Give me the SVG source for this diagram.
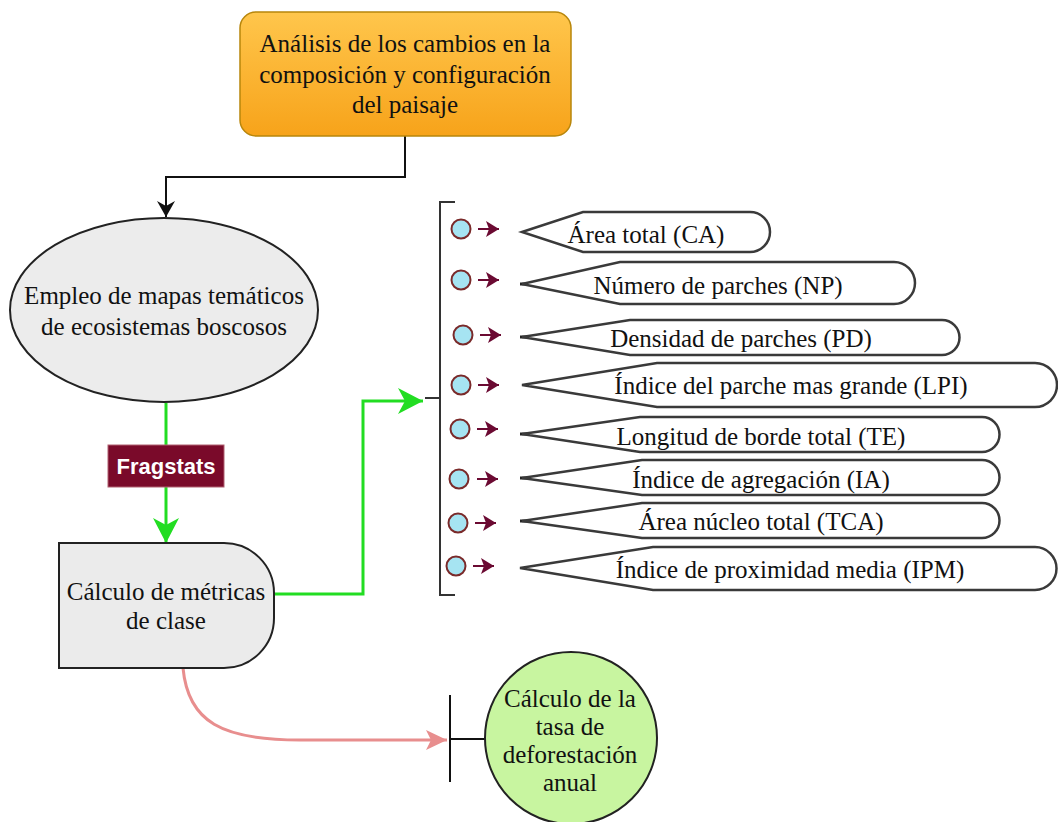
<svg xmlns="http://www.w3.org/2000/svg" width="1058" height="822" viewBox="0 0 1058 822">
<defs>
<linearGradient id="og" x1="0" y1="0" x2="0" y2="1">
<stop offset="0" stop-color="#ffc64c"/>
<stop offset="1" stop-color="#f7a31a"/>
</linearGradient>
<marker id="ab" markerUnits="userSpaceOnUse" markerWidth="16" markerHeight="18" refX="16" refY="9" orient="auto"><path d="M0,0 L16,9 L0,18 L5,9 Z" fill="#111"/></marker>
<marker id="ag" markerUnits="userSpaceOnUse" markerWidth="26" markerHeight="26" refX="25" refY="13" orient="auto"><path d="M0,0 L25,13 L0,26 L7,13 Z" fill="#22dd22"/></marker>
<marker id="ap" markerUnits="userSpaceOnUse" markerWidth="22" markerHeight="22" refX="21" refY="11" orient="auto"><path d="M0,1 L21,11 L0,21 L5,11 Z" fill="#e88e8e"/></marker>
<marker id="am" markerUnits="userSpaceOnUse" markerWidth="14" markerHeight="16" refX="13" refY="8" orient="auto"><path d="M0,0 L13,8 L0,16 L3,8 Z" fill="#6b0a32"/></marker>
</defs>
<style>
.t{font-family:"Liberation Serif","Times New Roman",serif;font-size:25px;fill:#111;text-anchor:middle}
.lbl{fill:#fff;stroke:#3a3a3a;stroke-width:2.5}
.tk{stroke:#222;stroke-width:3}
.dot{fill:#a6e4f2;stroke:#7a2a2a;stroke-width:2}
.sa{stroke:#6b0a32;stroke-width:2;fill:none;marker-end:url(#am)}
.g{stroke:#22dd22;stroke-width:3;fill:none}
</style>
<g id="connectors">
<path d="M405,136 V177 H166 V217" fill="none" stroke="#111" stroke-width="2" marker-end="url(#ab)"/>
<path class="g" d="M166,403 V445"/>
<path class="g" d="M166,487 V543" marker-end="url(#ag)"/>
<path class="g" d="M274,594 H363 V401 H423" marker-end="url(#ag)"/>
<path d="M183,668 C188,722 222,740 300,740 L447,740" fill="none" stroke="#e88e8e" stroke-width="3" marker-end="url(#ap)"/>
<path d="M450,695 V782 M450,739 H485" stroke="#111" stroke-width="2" fill="none"/>
<path d="M455,202 H440 V595 H455 M425,398 H440" stroke="#333" stroke-width="2" fill="none"/>
</g>
<g id="n-analisis">
<rect x="240" y="12" width="331" height="124" rx="16" fill="url(#og)" stroke="#b8860b" stroke-width="1.5"/>
<text class="t" x="405" y="52">Análisis de los cambios en la</text>
<text class="t" x="405" y="83">composición y configuración</text>
<text class="t" x="405" y="113">del paisaje</text>
</g>
<g id="n-empleo">
<ellipse cx="164" cy="310" rx="154" ry="92" fill="#ececec" stroke="#222" stroke-width="2"/>
<text class="t" x="164" y="304">Empleo de mapas temáticos</text>
<text class="t" x="164" y="335">de ecosistemas boscosos</text>
</g>
<g id="n-fragstats">
<rect x="108" y="445" width="116" height="42" fill="#7a0a2a" stroke="#b06070" stroke-width="1"/>
<text x="166" y="474" font-family="Liberation Sans, Arial, sans-serif" font-size="22" font-weight="bold" fill="#fff" text-anchor="middle">Fragstats</text>
</g>
<g id="n-calculo">
<path d="M59,543 H224 A50,50 0 0 1 274,593 V618 A50,50 0 0 1 224,668 H59 Z" fill="#ebebeb" stroke="#222" stroke-width="2"/>
<text class="t" x="166" y="600">Cálculo de métricas</text>
<text class="t" x="166" y="629">de clase</text>
</g>
<g id="n-tasa">
<circle cx="571" cy="738" r="86" fill="#c8f5a0" stroke="#222" stroke-width="2"/>
<text class="t" x="570" y="707">Cálculo de la</text>
<text class="t" x="570" y="735">tasa de</text>
<text class="t" x="570" y="763">deforestación</text>
<text class="t" x="570" y="791">anual</text>
</g>
<g id="m1">
<circle class="dot" cx="461" cy="229" r="9.5"/><path class="sa" d="M478,229 H499"/>
<path class="lbl" d="M522,232 L583,212 H750 A20,20 0 0 1 750,252 H583 Z"/>
<text class="t" x="646" y="243">Área total (CA)</text>
</g>
<g id="m2">
<circle class="dot" cx="461" cy="280" r="9.5"/><path class="sa" d="M478,280 H499"/>
<path class="tk" d="M520,284 H530"/>
<path class="lbl" d="M522,284 L620,262 H894 A21,21 0 0 1 894,304 H620 Z"/>
<text class="t" x="718" y="294">Número de parches (NP)</text>
</g>
<g id="m3">
<circle class="dot" cx="463" cy="335" r="9.5"/><path class="sa" d="M480,335 H501"/>
<path class="tk" d="M520,337 H530"/>
<path class="lbl" d="M522,337 L630,320 H942 A17.5,17.5 0 0 1 942,355 H630 Z"/>
<text class="t" x="741" y="347">Densidad de parches (PD)</text>
</g>
<g id="m4">
<circle class="dot" cx="461" cy="385" r="9.5"/><path class="sa" d="M478,385 H499"/>
<path class="lbl" d="M522,385 L657,363 H1035 A22,22 0 0 1 1035,407 H657 Z"/>
<text class="t" x="791" y="394">Índice del parche mas grande (LPI)</text>
</g>
<g id="m5">
<circle class="dot" cx="460" cy="429" r="9.5"/><path class="sa" d="M477,429 H498"/>
<path class="tk" d="M520,434 H530"/>
<path class="lbl" d="M522,434 L640,417 H982 A17.5,17.5 0 0 1 982,452 H640 Z"/>
<text class="t" x="761" y="445">Longitud de borde total (TE)</text>
</g>
<g id="m6">
<circle class="dot" cx="459" cy="479" r="9.5"/><path class="sa" d="M477,479 H498"/>
<path class="tk" d="M520,478 H530"/>
<path class="lbl" d="M522,478 L642,460 H982 A17.5,17.5 0 0 1 982,495 H642 Z"/>
<text class="t" x="761" y="488">Índice de agregación (IA)</text>
</g>
<g id="m7">
<circle class="dot" cx="458" cy="523" r="9.5"/><path class="sa" d="M475,523 H496"/>
<path class="tk" d="M520,521 H530"/>
<path class="lbl" d="M522,521 L642,503 H982 A17.5,17.5 0 0 1 982,538 H642 Z"/>
<text class="t" x="761" y="530">Área núcleo total (TCA)</text>
</g>
<g id="m8">
<circle class="dot" cx="456" cy="566" r="9.5"/><path class="sa" d="M473,566 H494"/>
<path class="lbl" d="M520,568 L653,547 H1035 A21.5,21.5 0 0 1 1035,590 H653 Z"/>
<text class="t" x="790" y="578">Índice de proximidad media (IPM)</text>
</g>
</svg>
